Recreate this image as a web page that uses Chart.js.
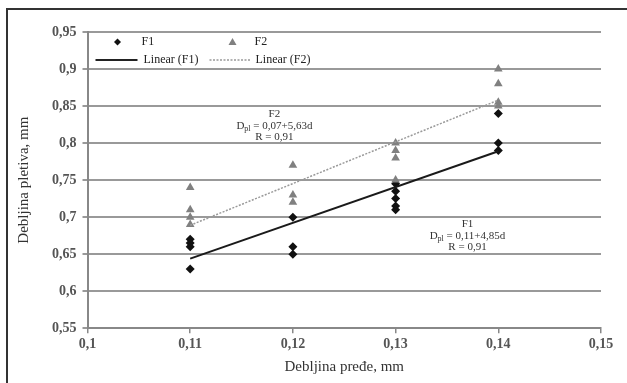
<!DOCTYPE html>
<html lang="sr">
<head>
  <meta charset="UTF-8">
  <title>Debljina pletiva</title>
  <script src="https://cdn.jsdelivr.net/npm/chart.js"></script>
  <style>
    body {
      margin: 0;
      padding: 0;
      background: #fff;
      font-family: 'Liberation Serif', serif;
    }
    .frame {
      position: absolute;
      left: 6px;
      top: 8px;
      width: 640px;
      height: 400px;
      border-left: 2px solid #333;
      border-top: 2px solid #333;
    }
    .chart-box {
      position: absolute;
      left: 0;
      top: 0;
      width: 627px;
      height: 383px;
    }
  </style>
</head>
<body>
  <div class="frame"></div>
  <div class="chart-box">
    <canvas id="chart" width="627" height="383"></canvas>
  </div>

  <script>
    // measured points (yarn thickness -> fabric thickness)
    const f1X = [0.11, 0.11, 0.11, 0.11, 0.12, 0.12, 0.12, 0.13, 0.13, 0.13, 0.13, 0.13, 0.14, 0.14, 0.14];
    const f1Y = [0.67, 0.665, 0.66, 0.63, 0.70, 0.66, 0.65, 0.745, 0.735, 0.725, 0.715, 0.71, 0.84, 0.80, 0.79];
    const f2X = [0.11, 0.11, 0.11, 0.11, 0.12, 0.12, 0.12, 0.13, 0.13, 0.13, 0.13, 0.14, 0.14, 0.14, 0.14];
    const f2Y = [0.74, 0.71, 0.70, 0.69, 0.77, 0.73, 0.72, 0.80, 0.79, 0.78, 0.75, 0.90, 0.88, 0.855, 0.85];

    // trend line end points
    const trendX = [0.11, 0.14];
    const trendF1 = [0.644, 0.789];
    const trendF2 = [0.689, 0.858];

    const xTicks = [0.1, 0.11, 0.12, 0.13, 0.14, 0.15];
    const yTicks = [0.55, 0.6, 0.65, 0.7, 0.75, 0.8, 0.85, 0.9, 0.95];

    // regression labels: [x, y, lines]
    const notes = [
      { x: 0.1182, y: 0.839, lines: ['F2', 'D|pl| = 0,07+5,63d', 'R = 0,91'] },
      { x: 0.137, y: 0.690, lines: ['F1', 'D|pl| = 0,11+4,85d', 'R = 0,91'] }
    ];

    const toPts = (xs, ys) => xs.map((x, i) => ({ x: x, y: ys[i] }));
    const fmt = v => String(Math.round(v * 100) / 100).replace('.', ',');

    const serif = "'Liberation Serif', serif";

    const notesPlugin = {
      id: 'notes',
      afterDatasetsDraw(chart) {
        const ctx = chart.ctx;
        const xs = chart.scales.x, ys = chart.scales.y;
        ctx.save();
        ctx.fillStyle = '#333';
        ctx.textBaseline = 'middle';
        notes.forEach(n => {
          const cx = xs.getPixelForValue(n.x);
          let cy = ys.getPixelForValue(n.y);
          n.lines.forEach(line => {
            const parts = line.split('|');
            ctx.font = '11px ' + serif;
            let w = ctx.measureText(parts[0]).width;
            let sub = 0;
            if (parts.length > 1) {
              ctx.font = '8px ' + serif;
              sub = ctx.measureText(parts[1]).width;
              ctx.font = '11px ' + serif;
              w += sub + ctx.measureText(parts[2]).width;
            }
            let x0 = cx - w / 2;
            ctx.textAlign = 'left';
            ctx.fillText(parts[0], x0, cy);
            if (parts.length > 1) {
              x0 += ctx.measureText(parts[0]).width;
              ctx.font = '8px ' + serif;
              ctx.fillText(parts[1], x0, cy + 3);
              x0 += sub;
              ctx.font = '11px ' + serif;
              ctx.fillText(parts[2], x0, cy);
            }
            cy += 11.5;
          });
        });
        ctx.restore();
      }
    };

    const legendPlugin = {
      id: 'legendBox',
      afterDraw(chart) {
        const ctx = chart.ctx;
        const a = chart.chartArea;
        ctx.save();
        ctx.font = '12px ' + serif;
        ctx.fillStyle = '#222';
        ctx.textBaseline = 'middle';
        const r1 = a.top + 10, r2 = a.top + 28;
        // F1 marker
        ctx.fillStyle = '#111';
        ctx.beginPath();
        ctx.moveTo(a.left + 30, r1 - 3.5);
        ctx.lineTo(a.left + 33.5, r1);
        ctx.lineTo(a.left + 30, r1 + 3.5);
        ctx.lineTo(a.left + 26.5, r1);
        ctx.closePath();
        ctx.fill();
        ctx.fillStyle = '#222';
        ctx.fillText('F1', a.left + 54, r1);
        // F2 marker
        ctx.fillStyle = '#808080';
        ctx.beginPath();
        ctx.moveTo(a.left + 145, r1 - 4);
        ctx.lineTo(a.left + 149, r1 + 3);
        ctx.lineTo(a.left + 141, r1 + 3);
        ctx.closePath();
        ctx.fill();
        ctx.fillStyle = '#222';
        ctx.fillText('F2', a.left + 167, r1);
        // Linear F1
        ctx.strokeStyle = '#222';
        ctx.lineWidth = 2;
        ctx.beginPath();
        ctx.moveTo(a.left + 8, r2);
        ctx.lineTo(a.left + 50, r2);
        ctx.stroke();
        ctx.fillText('Linear (F1)', a.left + 56, r2);
        // Linear F2
        ctx.strokeStyle = '#999';
        ctx.lineWidth = 1.5;
        ctx.setLineDash([2, 1.5]);
        ctx.beginPath();
        ctx.moveTo(a.left + 122, r2);
        ctx.lineTo(a.left + 163, r2);
        ctx.stroke();
        ctx.setLineDash([]);
        ctx.fillText('Linear (F2)', a.left + 168, r2);
        ctx.restore();
      }
    };

    new Chart(document.getElementById('chart'), {
      type: 'scatter',
      data: {
        datasets: [
          {
            label: 'Linear (F1)',
            type: 'line',
            data: toPts(trendX, trendF1),
            borderColor: '#1a1a1a',
            borderWidth: 2,
            pointRadius: 0,
            fill: false
          },
          {
            label: 'Linear (F2)',
            type: 'line',
            data: toPts(trendX, trendF2),
            borderColor: '#9a9a9a',
            borderWidth: 1.5,
            borderDash: [2, 1.5],
            pointRadius: 0,
            fill: false
          },
          {
            label: 'F2',
            data: toPts(f2X, f2Y),
            pointStyle: 'triangle',
            pointRadius: 5,
            backgroundColor: '#808080',
            borderColor: '#808080',
            borderWidth: 0
          },
          {
            label: 'F1',
            data: toPts(f1X, f1Y),
            pointStyle: 'rectRot',
            pointRadius: 4.5,
            backgroundColor: '#111',
            borderColor: '#111',
            borderWidth: 0
          }
        ]
      },
      options: {
        responsive: false,
        animation: false,
        devicePixelRatio: 1,
        layout: { padding: { left: 15, top: 32, right: 26, bottom: 7 } },
        plugins: {
          legend: { display: false },
          tooltip: { enabled: false }
        },
        scales: {
          x: {
            type: 'linear',
            min: 0.1,
            max: 0.15,
            afterBuildTicks: axis => { axis.ticks = xTicks.map(v => ({ value: v })); },
            grid: {
              display: true,
              drawOnChartArea: false,
              drawTicks: true,
              tickLength: 5,
              color: '#888',
              lineWidth: 1.5
            },
            border: { color: '#888', width: 2 },
            ticks: {
              color: '#555',
              font: { family: serif, size: 14, weight: 'bold' },
              padding: 3,
              maxRotation: 0,
              autoSkip: false,
              callback: v => fmt(v)
            },
            title: {
              display: true,
              text: 'Debljina pređe, mm',
              color: '#333',
              font: { family: serif, size: 15 },
              padding: { top: 2, bottom: 0 }
            }
          },
          y: {
            min: 0.55,
            max: 0.95,
            afterBuildTicks: axis => { axis.ticks = yTicks.map(v => ({ value: v })); },
            grid: {
              color: '#999',
              lineWidth: 2,
              tickLength: 5,
              drawTicks: true
            },
            border: { color: '#888', width: 2 },
            ticks: {
              color: '#555',
              font: { family: serif, size: 14, weight: 'bold' },
              padding: 6,
              autoSkip: false,
              callback: v => fmt(v)
            },
            title: {
              display: true,
              text: 'Debljina pletiva, mm',
              color: '#333',
              font: { family: serif, size: 15 },
              padding: { top: 0, bottom: 13 }
            }
          }
        }
      },
      plugins: [notesPlugin, legendPlugin]
    });
  </script>
</body>
</html>
